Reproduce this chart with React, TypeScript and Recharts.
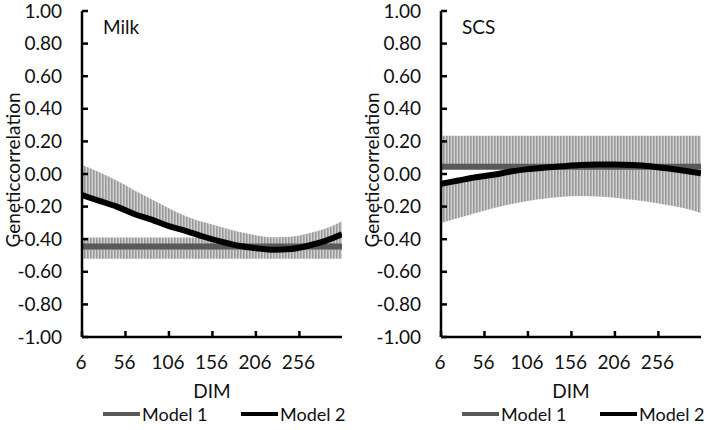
import { ComposedChart, Line, Area, XAxis, YAxis } from 'recharts'

// days in milk sampled along the curves
const DIM = [6, 26, 46, 66, 86, 106, 126, 146, 166, 186, 206, 226, 246, 266, 286, 305]
const DIM_TICKS = [6, 56, 106, 156, 206, 256]
const CORR_TICKS = [-1, -0.8, -0.6, -0.4, -0.2, 0, 0.2, 0.4, 0.6, 0.8, 1]

// Milk panel
const milkModel1 = -0.445
const milkModel1Band = [-0.52, -0.39]
const milkModel2 = [-0.13, -0.165, -0.2, -0.245, -0.28, -0.32, -0.35, -0.385, -0.415, -0.44, -0.455, -0.465, -0.46, -0.44, -0.41, -0.37]
const milkModel2Upper = [0.055, 0.01, -0.04, -0.1, -0.155, -0.21, -0.26, -0.295, -0.325, -0.355, -0.375, -0.39, -0.385, -0.365, -0.335, -0.29]

// SCS panel
const scsModel1 = 0.045
const scsModel1Band = [0.045, 0.235]
const scsModel2 = [-0.06, -0.04, -0.02, -0.005, 0.015, 0.03, 0.04, 0.048, 0.055, 0.058, 0.058, 0.055, 0.048, 0.035, 0.02, 0.005]
const scsModel2Lower = [-0.3, -0.27, -0.24, -0.21, -0.185, -0.165, -0.15, -0.14, -0.135, -0.138, -0.145, -0.158, -0.172, -0.19, -0.21, -0.24]

const FONT = 'Lato, "DejaVu Sans", sans-serif'
const M1_COLOR = '#595959'
const M2_COLOR = '#000000'

const milkData = DIM.map((d, i) => ({
  dim: d,
  m1: milkModel1,
  m1Band: milkModel1Band,
  m2: milkModel2[i],
  m2Band: [milkModel2[i], milkModel2Upper[i]],
}))

const scsData = DIM.map((d, i) => ({
  dim: d,
  m1: scsModel1,
  m1Band: scsModel1Band,
  m2: scsModel2[i],
  m2Band: [scsModel2Lower[i], scsModel2[i]],
}))

const YTick = ({ x, y, payload }: any) => (
  <g>
    <line x1={x} x2={x + 6} y1={y} y2={y} stroke="#000" strokeWidth={2.5} />
    <text x={x - 20} y={y} dy="0.35em" textAnchor="end" fontFamily={FONT} fontSize={19} fill="#111">
      {Number(payload.value).toFixed(2)}
    </text>
  </g>
)

const XTick = ({ x, y, payload }: any) => (
  <g>
    <line x1={x} x2={x} y1={y} y2={y - 6} stroke="#000" strokeWidth={2.5} />
    <text x={x - 1} y={y + 25} dy="0.35em" textAnchor="middle" fontFamily={FONT} fontSize={19} fill="#111">
      {payload.value}
    </text>
  </g>
)

const yLabel = ({ viewBox }: any) => {
  const vb = viewBox || { x: 0, y: 11, width: 82, height: 326 }
  const cx = vb.x + 13
  const cy = vb.y + vb.height / 2 - 4
  return (
    <text x={cx} y={cy} transform={`rotate(-90 ${cx} ${cy})`} textAnchor="middle" dy="0.35em"
      fontFamily={FONT} fontSize={19} fill="#111">
      Geneticcorrelation
    </text>
  )
}

const xLabel = ({ viewBox }: any) => {
  const vb = viewBox || { x: 82, y: 337, width: 260, height: 93 }
  return (
    <text x={vb.x + vb.width / 2} y={vb.y + 54} dy="0.35em" textAnchor="middle"
      fontFamily={FONT} fontSize={19} fill="#111">
      DIM
    </text>
  )
}

function LegendItem({ left, color, label }: { left: number, color: string, label: string }) {
  return (
    <div style={{ position: 'absolute', left, top: 403, height: 22, display: 'flex', alignItems: 'center' }}>
      <div style={{ width: 37, height: 4, background: color, marginRight: 2 }} />
      <span style={{ fontFamily: FONT, fontSize: 18, color: '#111', lineHeight: '22px' }}>{label}</span>
    </div>
  )
}

function Panel({ left, title, data, id }: { left: number, title: string, data: any[], id: string }) {
  return (
    <div style={{ position: 'absolute', left, top: 0, width: 354, height: 430 }}>
      <ComposedChart width={354} height={430} data={data} margin={{ top: 11, right: 12, bottom: 0, left: 0 }}>
        <defs>
          <pattern id={id} width="3" height="4" patternUnits="userSpaceOnUse">
            <rect width="3" height="4" fill="#d2d2d2" />
            <rect width="1.6" height="4" fill="#9a9a9a" />
          </pattern>
        </defs>
        <XAxis
          dataKey="dim"
          type="number"
          domain={[6, 305]}
          ticks={DIM_TICKS}
          height={93}
          tickSize={0}
          tickMargin={0}
          tick={<XTick />}
          axisLine={{ stroke: '#000', strokeWidth: 2.5 }}
          label={{ content: xLabel }}
          allowDataOverflow
        />
        <YAxis
          type="number"
          domain={[-1, 1]}
          ticks={CORR_TICKS}
          width={82}
          tickSize={0}
          tickMargin={0}
          tick={<YTick />}
          axisLine={{ stroke: '#000', strokeWidth: 2.5 }}
          label={{ content: yLabel }}
          interval={0}
        />
        <Area dataKey="m1Band" type="linear" stroke="none" fill={`url(#${id})`} fillOpacity={1} isAnimationActive={false} />
        <Area dataKey="m2Band" type="monotone" stroke="none" fill={`url(#${id})`} fillOpacity={1} isAnimationActive={false} />
        <Line dataKey="m1" type="linear" stroke={M1_COLOR} strokeWidth={6} dot={false} isAnimationActive={false} />
        <Line dataKey="m2" type="monotone" stroke={M2_COLOR} strokeWidth={6} dot={false} isAnimationActive={false} />
      </ComposedChart>
      <div style={{ position: 'absolute', left: 103, top: 15, fontFamily: FONT, fontSize: 19, color: '#111', lineHeight: '24px' }}>
        {title}
      </div>
      <LegendItem left={103} color={M1_COLOR} label="Model 1" />
      <LegendItem left={241} color={M2_COLOR} label="Model 2" />
    </div>
  )
}

export default function App() {
  return (
    <div style={{ position: 'absolute', left: 0, top: 0, width: 709, height: 430, background: '#fff', overflow: 'hidden' }}>
      <Panel left={0} title="Milk" data={milkData} id="hatchMilk" />
      <Panel left={359} title="SCS" data={scsData} id="hatchScs" />
    </div>
  )
}
